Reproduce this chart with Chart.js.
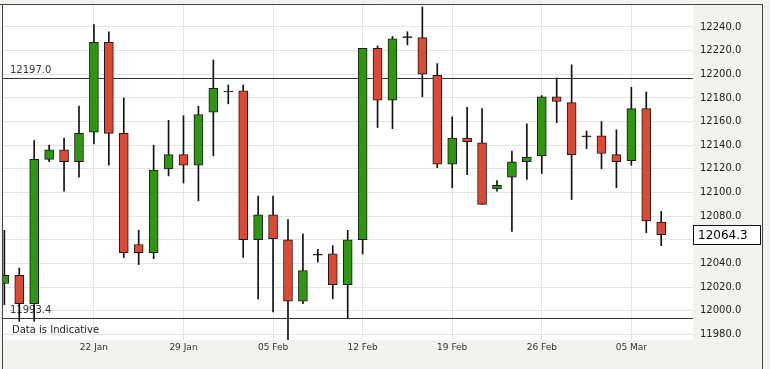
<!DOCTYPE html>
<html>
<head>
<meta charset="utf-8">
<script src="https://cdn.jsdelivr.net/npm/chart.js@4.4.1/dist/chart.umd.min.js"></script>
<style>
  html, body { margin: 0; padding: 0; background: #f3f2ee; }
  #wrap { width: 770px; height: 369px; }
</style>
</head>
<body>
<div id="wrap"><canvas id="chart" width="770" height="369"></canvas></div>
<script>
// candle dates (one per session, Sunday sessions included)
const dates = [
  '15 Jan', '16 Jan', '17 Jan', '18 Jan', '19 Jan', '21 Jan',
  '22 Jan', '23 Jan', '24 Jan', '25 Jan', '26 Jan', '28 Jan',
  '29 Jan', '30 Jan', '31 Jan', '01 Feb', '02 Feb', '04 Feb',
  '05 Feb', '06 Feb', '07 Feb', '08 Feb', '09 Feb', '11 Feb',
  '12 Feb', '13 Feb', '14 Feb', '15 Feb', '16 Feb', '18 Feb',
  '19 Feb', '20 Feb', '21 Feb', '22 Feb', '23 Feb', '25 Feb',
  '26 Feb', '27 Feb', '28 Feb', '01 Mar', '02 Mar', '04 Mar',
  '05 Mar', '06 Mar', '07 Mar'
];

const open = [
  12023, 12030, 12006, 12128, 12136, 12126,
  12151, 12227, 12150, 12056, 12049, 12120,
  12132, 12123, 12168, 12185, 12186, 12060,
  12081, 12060, 12008, 12047, 12048, 12022,
  12060, 12222, 12178, 12231, 12231, 12199,
  12124, 12146, 12142, 12103, 12113, 12126,
  12131, 12181, 12176, 12147, 12148, 12132,
  12127, 12171, 12075
];
const high = [
  12068, 12036, 12144, 12140, 12146, 12173,
  12242, 12236, 12180, 12068, 12140, 12161,
  12165, 12173, 12212, 12191, 12191, 12097,
  12097, 12077, 12065, 12052, 12055, 12068,
  12222, 12224, 12232, 12236, 12257, 12209,
  12164, 12172, 12171, 12110, 12135, 12158,
  12182, 12197, 12208, 12152, 12160, 12153,
  12189, 12185, 12084
];
const low = [
  12005, 11991, 11991, 12126, 12101, 12113,
  12141, 12123, 12045, 12039, 12044, 12114,
  12108, 12093, 12131, 12175, 12045, 12010,
  11999, 11975, 12006, 12041, 12010, 11994,
  12048, 12155, 12154, 12225, 12181, 12121,
  12104, 12115, 12090, 12101, 12067, 12111,
  12116, 12159, 12094, 12137, 12120, 12104,
  12123, 12066, 12055
];
const close = [
  12030, 12006, 12128, 12136, 12126, 12150,
  12227, 12150, 12049, 12049, 12119, 12132,
  12123, 12166, 12188, 12185, 12060, 12081,
  12061, 12008, 12034, 12047, 12022, 12060,
  12222, 12178, 12230, 12231, 12200, 12124,
  12146, 12143, 12090, 12106, 12126, 12130,
  12181, 12177, 12132, 12147, 12133, 12126,
  12171, 12076, 12064.3
];

const weekLabels = ['22 Jan', '29 Jan', '05 Feb', '12 Feb', '19 Feb', '26 Feb', '05 Mar'];
const refHigh = 12197.0;
const refLow = 11993.4;
const lastPrice = 12064.3;

const upColor = '#2f9612';
const downColor = '#dc4934';

// фон, рамки, контрольні лінії і підписи
const decorPlugin = {
  id: 'decor',
  beforeDraw(chart) {
    const { ctx, chartArea: a } = chart;
    ctx.save();
    ctx.fillStyle = '#f3f2ee';
    ctx.fillRect(0, 0, chart.width, chart.height);
    ctx.fillStyle = '#ffffff';
    ctx.fillRect(a.left, a.top, a.right - a.left, a.bottom - a.top);
    ctx.restore();
  },
  beforeDatasetsDraw(chart) {
    const { ctx, chartArea: a } = chart;
    const y = chart.scales.y;
    ctx.save();
    ctx.strokeStyle = '#333333';
    ctx.lineWidth = 1;
    ctx.font = '10px "DejaVu Sans"';
    ctx.fillStyle = '#333333';
    ctx.textBaseline = 'middle';
    [refHigh, refLow].forEach(v => {
      const py = Math.round(y.getPixelForValue(v)) + 0.5;
      ctx.beginPath();
      ctx.moveTo(a.left, py);
      ctx.lineTo(a.right, py);
      ctx.stroke();
      ctx.fillText(v.toFixed(1), 10, py - 8);
    });
    ctx.fillStyle = '#222222';
    ctx.fillText('Data is Indicative', 12, a.bottom - 9.5);
    ctx.restore();
  },
  afterDraw(chart) {
    const { ctx, chartArea: a } = chart;
    const y = chart.scales.y;
    ctx.save();
    ctx.strokeStyle = '#444444';
    ctx.lineWidth = 1;
    ctx.beginPath();
    ctx.moveTo(0, 4.5);
    ctx.lineTo(763, 4.5);
    ctx.moveTo(2.5, 4);
    ctx.lineTo(2.5, chart.height);
    ctx.moveTo(762.5, 4);
    ctx.lineTo(762.5, chart.height);
    ctx.stroke();

    // поточна ціна
    const py = Math.round(y.getPixelForValue(lastPrice));
    ctx.fillStyle = '#ffffff';
    ctx.fillRect(a.right, py - 9, 68, 19);
    ctx.strokeStyle = '#111111';
    ctx.strokeRect(a.right + 0.5, py - 9.5, 67, 19);
    ctx.fillStyle = '#000000';
    ctx.font = '12px "DejaVu Sans"';
    ctx.textBaseline = 'middle';
    ctx.fillText(lastPrice.toFixed(1), a.right + 5, py + 0.5);
    ctx.restore();
  }
};

Chart.defaults.font.family = '"DejaVu Sans"';
Chart.defaults.font.size = 10;
Chart.defaults.color = '#222222';

const bodyColor = (ctx) => {
  const i = ctx.dataIndex;
  if (close[i] > open[i]) return upColor;
  if (close[i] < open[i]) return downColor;
  return '#000000';
};

new Chart(document.getElementById('chart'), {
  type: 'bar',
  data: {
    datasets: [
      {
        label: 'body',
        data: open.map((o, i) => ({ x: i, y: [o, close[i]] })),
        backgroundColor: bodyColor,
        borderColor: '#1a1a1a',
        borderWidth: 1,
        borderSkipped: false,
        barThickness: 9,
        minBarLength: 1,
        grouped: false,
        order: 1,
      },
      {
        label: 'wick',
        data: low.map((l, i) => ({ x: i, y: [l, high[i]] })),
        backgroundColor: '#111111',
        borderWidth: 0,
        barThickness: 1,
        grouped: false,
        order: 2,
      },
    ],
  },
  options: {
    responsive: false,
    animation: false,
    events: [],
    layout: { padding: { top: 5, left: 3, right: 0, bottom: 0 } },
    plugins: {
      legend: { display: false },
      tooltip: { enabled: false },
    },
    scales: {
      x: {
        type: 'linear',
        offset: false,
        min: -0.09,
        max: 46.13,
        grid: { color: '#e4e4e4', drawTicks: false, offset: false },
        border: { display: false },
        afterBuildTicks: (scale) => {
          scale.ticks = weekLabels.map(l => ({ value: dates.indexOf(l) }));
        },
        afterFit: (scale) => {
          scale.height = 29;
          scale.paddingLeft = 0;
          scale.paddingRight = 0;
        },
        ticks: {
          autoSkip: false,
          maxRotation: 0,
          padding: 2,
          font: { size: 9 },
          color: '#333333',
          callback: (v) => dates[v],
        },
      },
      y: {
        position: 'right',
        min: 11975.2,
        max: 12258.6,
        grid: { color: '#e4e4e4', drawTicks: false },
        border: { display: false },
        afterFit: (scale) => {
          scale.width = 77;
          scale.paddingTop = 0;
          scale.paddingBottom = 0;
        },
        ticks: {
          stepSize: 20,
          includeBounds: false,
          padding: 7,
          color: '#222222',
          callback: (v) => v.toFixed(1),
        },
      },
    },
  },
  plugins: [decorPlugin],
});
</script>
</body>
</html>
